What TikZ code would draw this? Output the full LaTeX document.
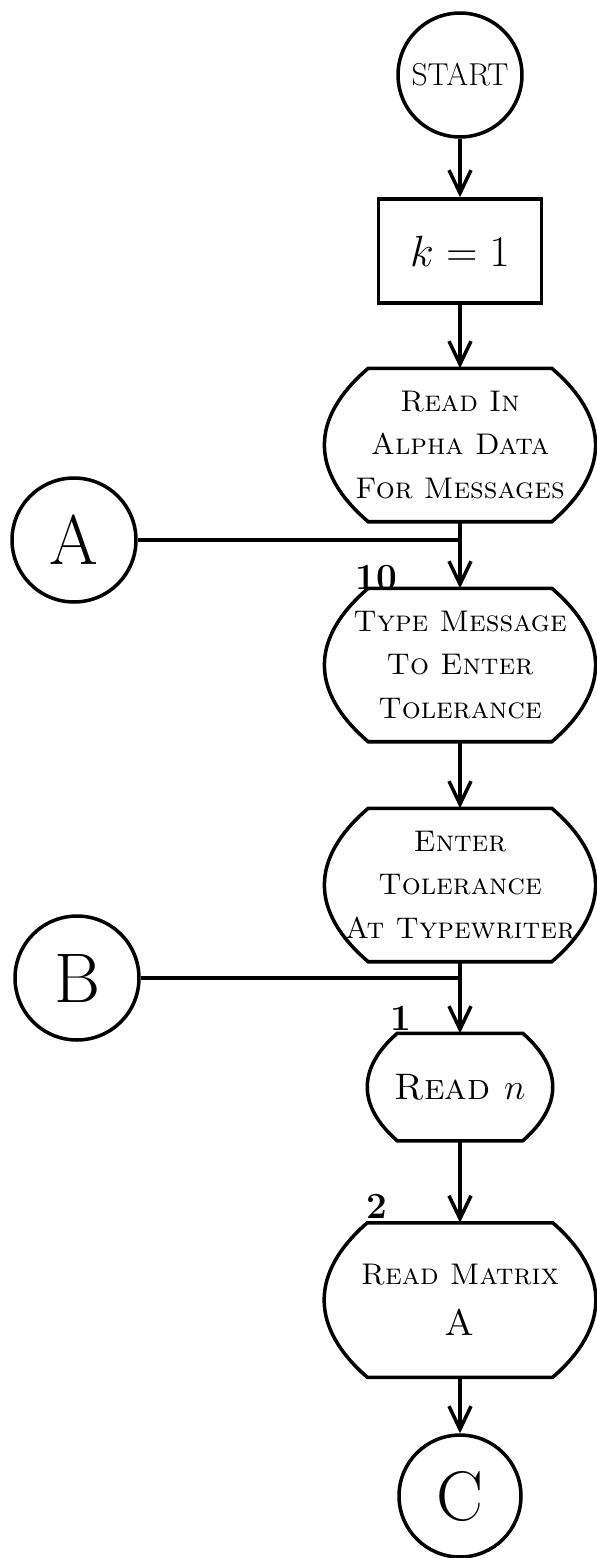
\documentclass[tikz,border=0pt]{standalone}
\usepackage{tikz}
\usetikzlibrary{arrows.meta}

\begin{document}
\begin{tikzpicture}[x=0.02cm,y=-0.02cm,line width=2pt,
    flow/.style={-{Straight Barb[length=0.46cm,width=0.44cm,line width=2pt]}},
    term/.style={draw,circle,minimum size=2.48cm,inner sep=0pt},
    barrel/.style={align=center,inner sep=0pt,font=\fontsize{17}{25}\selectfont\scshape},
    numlabel/.style={font=\fontsize{21}{25}\selectfont\bfseries}]
    \useasboundingbox (0,0) rectangle (596,1558);

    % Terminals and connectors
    \node[term,font=\fontsize{18}{20}\selectfont] (start) at (460,75) {START};
    \node[term,font=\fontsize{40}{44}\selectfont] (A) at (74,540) {A};
    \node[term,font=\fontsize{40}{44}\selectfont] (B) at (77,978) {B};
    \node[term,minimum size=2.44cm,font=\fontsize{40}{44}\selectfont] (stopC) at (460,1496) {C};

    % Process box
    \node[draw,minimum width=3.26cm,minimum height=2.08cm,font=\fontsize{30}{36}\selectfont] (k) at (460,251) {$k=1$};

    % Input / output boxes
    \node[barrel,minimum width=5.36cm,minimum height=3cm] (readin) at (460,445) {Read In\\Alpha Data\\For Messages};
    \node[barrel,minimum width=5.36cm,minimum height=3cm] (typemsg) at (460,665) {Type Message\\To Enter\\Tolerance};
    \node[barrel,minimum width=5.36cm,minimum height=3cm] (enter) at (460,885) {Enter\\Tolerance\\At Typewriter};
    \node[barrel,minimum width=3.64cm,minimum height=2.08cm,font=\fontsize{21}{25}\selectfont\scshape] (readn) at (460,1087) {Read $n$};
    \node[barrel,minimum width=5.36cm,minimum height=3.02cm] (matrix) at (460,1300) {Read Matrix\\[4pt]\fontsize{21}{25}\selectfont A};

    % Outlines: flat top and bottom, bulging sides
    \foreach \n/\b/\c/\d in {readin/0.88cm/1.17cm/1.0cm, typemsg/0.88cm/1.17cm/1.0cm,
        enter/0.88cm/1.17cm/1.0cm, readn/0.6cm/0.8cm/0.7cm, matrix/0.86cm/1.15cm/1.0cm}
        \draw ([xshift=\b]\n.north west) -- ([xshift=-\b]\n.north east)
            .. controls +(\c,-\d) and +(\c,\d) .. ([xshift=-\b]\n.south east)
            -- ([xshift=\b]\n.south west)
            .. controls +(-\c,\d) and +(-\c,-\d) .. ([xshift=\b]\n.north west) -- cycle;

    % Statement numbers
    \node[numlabel] (n10) at (376,578) {10};
    \node[numlabel] (n1) at (401,1018) {1};
    \node[numlabel] (n2) at (377,1206) {2};

    % Flow
    \draw[flow] (start) -- (k);
    \draw[flow] (k) -- (readin);
    \draw[flow] (readin) -- (typemsg);
    \draw[flow] (typemsg) -- (enter);
    \draw[flow] (enter) -- (readn);
    \draw[flow] (readn) -- (matrix);
    \draw[flow] (matrix) -- (stopC);

    % Connectors joining the main line
    \coordinate (joinA) at (A -| readin);
    \coordinate (joinB) at (B -| enter);
    \draw (A) -- (joinA);
    \draw (B) -- (joinB);
\end{tikzpicture}
\end{document}
